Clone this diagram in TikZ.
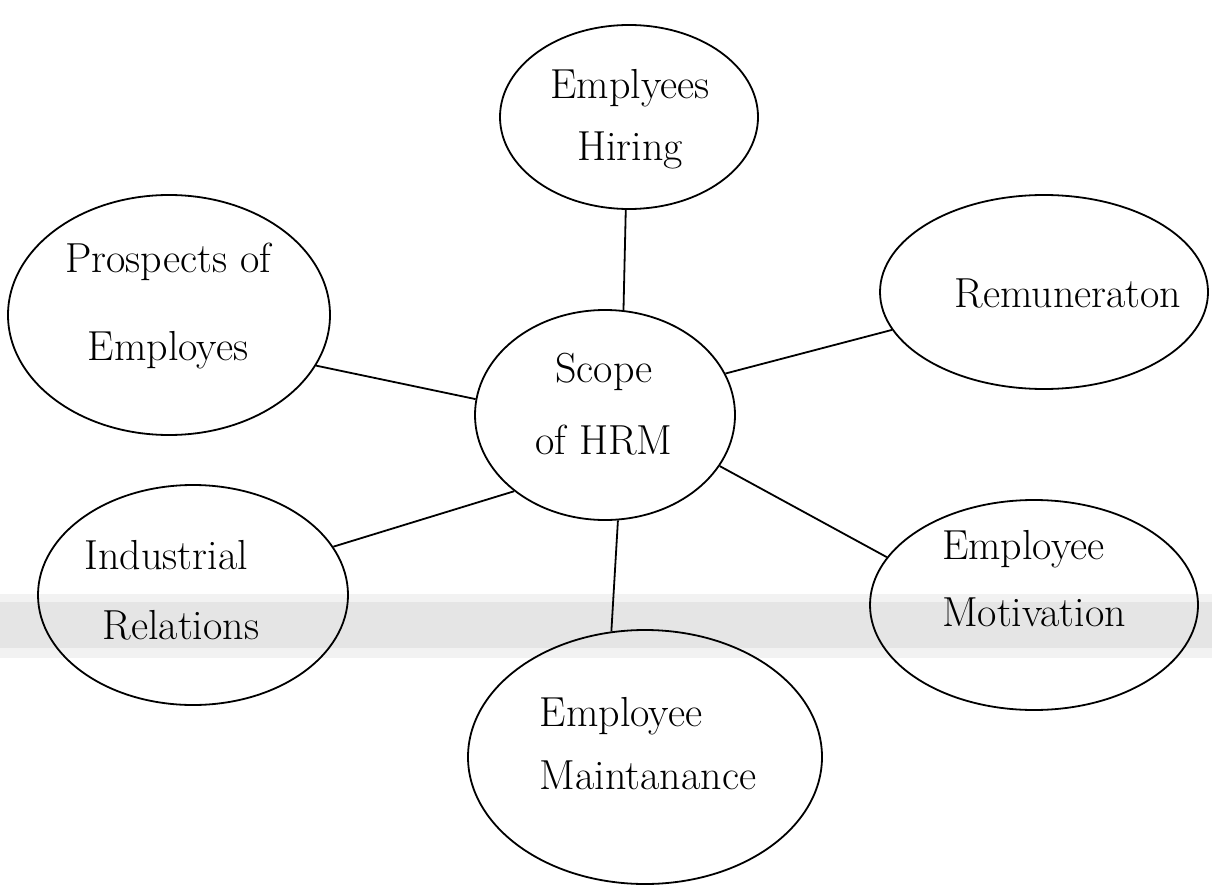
\documentclass[tikz,border=0pt]{standalone}
\usepackage{fontspec}
\usetikzlibrary{shapes.geometric}
\begin{document}
\begin{tikzpicture}[x=1pt,y=-1pt,
  bubble/.style={draw, ellipse, line width=1.8pt, inner sep=0pt},
  label/.style={align=center, inner sep=0pt},
  link/.style={line width=1.8pt}]
  \useasboundingbox[fill=white] (0,0) rectangle (1212,885);
  % faint scanner band across the page
  \fill[gray!20] (0,602) rectangle (1212,648);
  \fill[gray!10] (0,594) rectangle (1212,602);
  \fill[gray!10] (0,648) rectangle (1212,658);

  % bubbles
  \node[bubble, minimum width=258pt, minimum height=184pt] (hire) at (629,117) {};
  \node[bubble, minimum width=322pt, minimum height=240pt] (pros) at (169,315) {};
  \node[bubble, minimum width=328pt, minimum height=194pt] (remu) at (1044,292) {};
  \node[bubble, minimum width=260pt, minimum height=210pt] (scope) at (605,415) {};
  \node[bubble, minimum width=310pt, minimum height=220pt] (indu) at (193,595) {};
  \node[bubble, minimum width=328pt, minimum height=210pt] (moti) at (1034,605) {};
  \node[bubble, minimum width=354pt, minimum height=254pt] (main) at (645,757) {};

  % texts
  \node[label, font=\fontsize{42}{62}\selectfont] (thire) at (630,119) {Emplyees\\Hiring};
  \node[label, font=\fontsize{42}{88}\selectfont] (tpros) at (168,306) {Prospects of\\Employes};
  \node[label, font=\fontsize{42}{62}\selectfont] (tremu) at (1068,293) {Remuneraton};
  \node[label, font=\fontsize{42}{72}\selectfont] (tscope) at (604,404) {Scope\\of HRM};
  \node[label, align=left, font=\fontsize{42}{70}\selectfont] (tindu) at (172,590) {Industrial\\\hspace{18pt}Relations};
  \node[label, align=left, font=\fontsize{42}{67}\selectfont] (tmoti) at (1034,579) {Employee\\Motivation};
  \node[label, align=left, font=\fontsize{42}{63}\selectfont] (tmain) at (648,744) {Employee\\Maintanance};

  % connectors
  \draw[link] (hire.268) -- (scope.80);
  \draw[link] (pros.341) -- (scope.173);
  \draw[link] (remu.194) -- (scope.19);
  \draw[link] (indu.19) -- (scope.220);
  \draw[link] (moti.162) -- (scope.336);
  \draw[link] (main.105) -- (scope.277);
\end{tikzpicture}
\end{document}
